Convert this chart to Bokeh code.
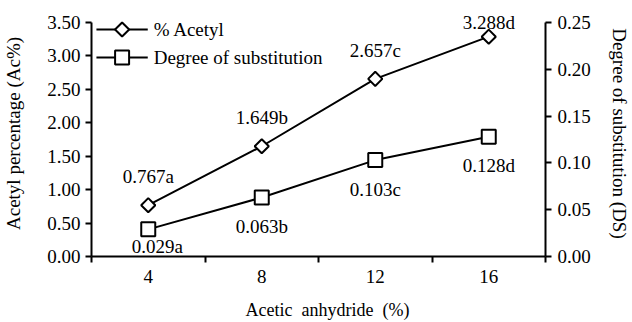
import math
from bokeh.plotting import figure
from bokeh.models import Range1d, LinearAxis, FixedTicker, PrintfTickFormatter
from bokeh.core.properties import value
from bokeh.embed import file_html
from bokeh.resources import INLINE

# ---- data ----
categories = [4, 8, 12, 16]
acetyl = [0.767, 1.649, 2.657, 3.288]
acetyl_letters = ["a", "b", "c", "d"]
ds = [0.029, 0.063, 0.103, 0.128]
ds_letters = ["a", "b", "c", "d"]
left_ticks = [0.0, 0.5, 1.0, 1.5, 2.0, 2.5, 3.0, 3.5]
right_ticks = [0.0, 0.05, 0.10, 0.15, 0.20, 0.25]
cat_bounds = [2, 6, 10, 14, 18]
left_max = 3.5
right_max = 0.25
legend_labels = ["% Acetyl", "Degree of substitution"]

acetyl_labels = [f"{v:.3f}{l}" for v, l in zip(acetyl, acetyl_letters)]
ds_labels = [f"{v:.3f}{l}" for v, l in zip(ds, ds_letters)]

# ---- style ----
FONT = "Liberation Serif"
FS = "19px"
W, H = 632, 322
BL, BR, BT, BB = 89, 83, 10, 66
FRAME_W = W - BL - BR
FRAME_H = H - BT - BB
AXIS_PX = 234           # pixel height of the 0..max axes
pad = FRAME_H / AXIS_PX  # headroom above the axes' top

# legend layout in frame pixels (x from left, y from top)
LEG_LINE = (5, 57)
LEG_MARK_X = 31
LEG_TEXT_X = 63
LEG_ROWS = [19, 47]

p = figure(width=W, height=H, output_backend="svg", toolbar_location=None,
           x_range=Range1d(cat_bounds[0], cat_bounds[-1]), y_range=Range1d(0, left_max * pad),
           min_border_left=BL, min_border_right=BR, min_border_top=BT, min_border_bottom=BB)
p.extra_y_ranges = {"ds": Range1d(0, right_max * pad), "py": Range1d(FRAME_H, 0)}
p.extra_x_ranges = {"px": Range1d(0, FRAME_W)}
p.outline_line_color = None
p.grid.visible = False
p.background_fill_color = "white"

# axes
p.xaxis.ticker = FixedTicker(ticks=categories, minor_ticks=cat_bounds)
p.yaxis.ticker = FixedTicker(ticks=left_ticks)
p.yaxis.formatter = PrintfTickFormatter(format="%.2f")
p.yaxis.bounds = (0, left_max)
p.xaxis.axis_label = "\u00a0\u00a0\u00a0\u00a0Acetic\u00a0\u00a0anhydride\u00a0\u00a0(%)"
p.yaxis.axis_label = "Acetyl percentage (Ac%)"

right = LinearAxis(y_range_name="ds", ticker=FixedTicker(ticks=right_ticks),
                   formatter=PrintfTickFormatter(format="%.2f"),
                   axis_label="Degree of substitution (DS)", bounds=(0, right_max))
p.add_layout(right, "right")

for ax in [p.xaxis[0], p.yaxis[0], right]:
    ax.axis_line_width = 2
    ax.axis_line_color = "black"
    ax.major_tick_line_color = "black"
    ax.major_tick_line_width = 2
    ax.major_tick_out = 6
    ax.major_tick_in = 0
    ax.minor_tick_line_color = None
    ax.major_label_text_font = FONT
    ax.major_label_text_font_size = FS
    ax.major_label_text_color = "black"
    ax.axis_label_text_font = FONT
    ax.axis_label_text_font_size = FS
    ax.axis_label_text_font_style = "normal"
    ax.axis_label_text_color = "black"

p.xaxis.major_tick_out = 0
p.xaxis.minor_tick_line_color = "black"
p.xaxis.minor_tick_line_width = 2
p.xaxis.minor_tick_out = 6
p.xaxis.minor_tick_in = 0
p.xaxis.major_label_standoff = 7
p.xaxis.axis_label_standoff = 14
p.xaxis.axis_label_text_font_size = "18px"
p.yaxis.major_label_standoff = 5
p.yaxis.axis_label_standoff = 20
right.major_label_standoff = 6
right.axis_label_standoff = 15

# series
p.line(categories, acetyl, line_color="black", line_width=2)
p.scatter(categories, acetyl, marker="square", angle=math.pi / 4, size=10,
          fill_color="white", line_color="black", line_width=2)
p.line(categories, ds, line_color="black", line_width=2, y_range_name="ds")
p.scatter(categories, ds, marker="square", size=14, fill_color="white",
          line_color="black", line_width=2, y_range_name="ds")

# value labels (screen offsets, downward positive)
acetyl_offsets = [-29, -29, -28, -14]
ds_offsets = [17, 29, 29, 29]
ds_xoffsets = [9, 0, 0, 0]
for i in range(len(categories)):
    p.text(x=[categories[i]], y=[acetyl[i]], text=[acetyl_labels[i]],
           y_offset=acetyl_offsets[i], text_align="center", text_baseline="middle",
           text_font=value(FONT), text_font_size=FS, text_color="black")
    p.text(x=[categories[i]], y=[ds[i]], text=[ds_labels[i]], y_range_name="ds",
           x_offset=ds_xoffsets[i], y_offset=ds_offsets[i], text_align="center",
           text_baseline="middle", text_font=value(FONT), text_font_size=FS,
           text_color="black")

# legend (drawn in frame-pixel space)
n = len(legend_labels)
p.segment(x0=[LEG_LINE[0]] * n, x1=[LEG_LINE[1]] * n, y0=LEG_ROWS, y1=LEG_ROWS,
          x_range_name="px", y_range_name="py", line_color="black", line_width=2)
p.scatter([LEG_MARK_X], [LEG_ROWS[0]], marker="square", angle=math.pi / 4, size=10,
          fill_color="white", line_color="black", line_width=2,
          x_range_name="px", y_range_name="py")
p.scatter([LEG_MARK_X], [LEG_ROWS[1]], marker="square", size=14,
          fill_color="white", line_color="black", line_width=2,
          x_range_name="px", y_range_name="py")
p.text(x=[LEG_TEXT_X] * n, y=LEG_ROWS, text=legend_labels, x_range_name="px",
       y_range_name="py", text_align="left", text_baseline="middle",
       text_font=value(FONT), text_font_size=FS, text_color="black")

open("out.html", "w").write(file_html(p, INLINE))
